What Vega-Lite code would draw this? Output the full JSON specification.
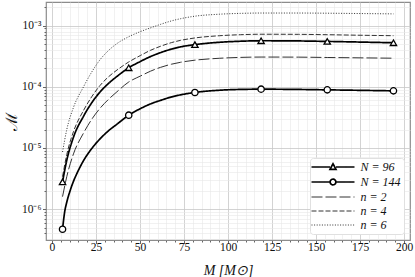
{
  "$schema": "https://vega.github.io/schema/vega-lite/v6.json",
  "width": 364,
  "height": 238,
  "autosize": {"type": "none"},
  "padding": {"left": 46, "top": 2, "right": 5, "bottom": 37},
  "background": "white",
  "config": {
    "view": {"stroke": "#8c8c8c", "strokeWidth": 1.2},
    "axis": {
      "labelFont": "Liberation Serif",
      "labelFontSize": 11.5,
      "labelColor": "#111",
      "titleFont": "Liberation Serif",
      "titleColor": "#111",
      "titleFontWeight": "normal",
      "tickColor": "#666",
      "domain": false,
      "gridColor": "#c8c8c8",
      "gridWidth": 0.8,
      "labelFlush": false,
      "labelOverlap": false
    },
    "legend": {
      "title": null,
      "orient": "bottom-right",
      "offset": 6,
      "symbolSize": 169,
      "labelOffset": 35.5,
      "labelFont": "Liberation Serif",
      "labelFontSize": 12,
      "labelFontStyle": "italic",
      "labelColor": "#111",
      "labelExpr": "join(split(datum.label, ' '), ' ')",
      "fillColor": "white",
      "strokeColor": "#e0e0e0",
      "padding": 3,
      "cornerRadius": 3,
      "rowPadding": 2
    }
  },
  "datasets": {
    "curves": [
      {"s": "N = 96", "x": 6, "y": 2.8e-6},
      {"s": "N = 96", "x": 8.4, "y": 6.3e-6},
      {"s": "N = 96", "x": 12.2, "y": 1.5e-5},
      {"s": "N = 96", "x": 17.9, "y": 3.3e-5},
      {"s": "N = 96", "x": 22.6, "y": 5.5e-5},
      {"s": "N = 96", "x": 27.4, "y": 8.3e-5},
      {"s": "N = 96", "x": 32, "y": 1.13e-4},
      {"s": "N = 96", "x": 36.9, "y": 1.48e-4},
      {"s": "N = 96", "x": 43.6, "y": 2.05e-4},
      {"s": "N = 96", "x": 50.2, "y": 2.6e-4},
      {"s": "N = 96", "x": 55.9, "y": 3.12e-4},
      {"s": "N = 96", "x": 61.6, "y": 3.62e-4},
      {"s": "N = 96", "x": 68, "y": 4.15e-4},
      {"s": "N = 96", "x": 73, "y": 4.5e-4},
      {"s": "N = 96", "x": 81.2, "y": 4.9e-4},
      {"s": "N = 96", "x": 95, "y": 5.35e-4},
      {"s": "N = 96", "x": 107, "y": 5.57e-4},
      {"s": "N = 96", "x": 118.8, "y": 5.67e-4},
      {"s": "N = 96", "x": 140, "y": 5.63e-4},
      {"s": "N = 96", "x": 156.4, "y": 5.53e-4},
      {"s": "N = 96", "x": 175, "y": 5.4e-4},
      {"s": "N = 96", "x": 194, "y": 5.26e-4},
      {"s": "N = 144", "x": 6, "y": 4.7e-7},
      {"s": "N = 144", "x": 7.2, "y": 9.0e-7},
      {"s": "N = 144", "x": 8.4, "y": 1.3e-6},
      {"s": "N = 144", "x": 10.3, "y": 2.0e-6},
      {"s": "N = 144", "x": 12.2, "y": 2.85e-6},
      {"s": "N = 144", "x": 14.1, "y": 3.8e-6},
      {"s": "N = 144", "x": 17.9, "y": 6.2e-6},
      {"s": "N = 144", "x": 22.6, "y": 9.8e-6},
      {"s": "N = 144", "x": 27.4, "y": 1.42e-5},
      {"s": "N = 144", "x": 32, "y": 1.9e-5},
      {"s": "N = 144", "x": 36.9, "y": 2.45e-5},
      {"s": "N = 144", "x": 43.6, "y": 3.44e-5},
      {"s": "N = 144", "x": 50.2, "y": 4.4e-5},
      {"s": "N = 144", "x": 55.9, "y": 5.25e-5},
      {"s": "N = 144", "x": 61.6, "y": 6.0e-5},
      {"s": "N = 144", "x": 68, "y": 6.85e-5},
      {"s": "N = 144", "x": 73, "y": 7.4e-5},
      {"s": "N = 144", "x": 81.2, "y": 8.1e-5},
      {"s": "N = 144", "x": 95, "y": 8.8e-5},
      {"s": "N = 144", "x": 107, "y": 9.08e-5},
      {"s": "N = 144", "x": 118.8, "y": 9.16e-5},
      {"s": "N = 144", "x": 140, "y": 9.07e-5},
      {"s": "N = 144", "x": 156.4, "y": 8.93e-5},
      {"s": "N = 144", "x": 175, "y": 8.77e-5},
      {"s": "N = 144", "x": 194, "y": 8.6e-5},
      {"s": "n = 2", "x": 6, "y": 1.6e-6},
      {"s": "n = 2", "x": 8.4, "y": 3.4e-6},
      {"s": "n = 2", "x": 12.2, "y": 8.0e-6},
      {"s": "n = 2", "x": 17.9, "y": 1.75e-5},
      {"s": "n = 2", "x": 22.6, "y": 2.95e-5},
      {"s": "n = 2", "x": 27.4, "y": 4.5e-5},
      {"s": "n = 2", "x": 32, "y": 6.2e-5},
      {"s": "n = 2", "x": 36.9, "y": 8.3e-5},
      {"s": "n = 2", "x": 43.6, "y": 1.2e-4},
      {"s": "n = 2", "x": 50.2, "y": 1.5e-4},
      {"s": "n = 2", "x": 55.9, "y": 1.8e-4},
      {"s": "n = 2", "x": 61.6, "y": 2.08e-4},
      {"s": "n = 2", "x": 68, "y": 2.35e-4},
      {"s": "n = 2", "x": 73, "y": 2.52e-4},
      {"s": "n = 2", "x": 81.2, "y": 2.73e-4},
      {"s": "n = 2", "x": 95, "y": 2.93e-4},
      {"s": "n = 2", "x": 107, "y": 3.03e-4},
      {"s": "n = 2", "x": 118.8, "y": 3.07e-4},
      {"s": "n = 2", "x": 140, "y": 3.06e-4},
      {"s": "n = 2", "x": 156.4, "y": 3.02e-4},
      {"s": "n = 2", "x": 175, "y": 2.98e-4},
      {"s": "n = 2", "x": 194, "y": 2.94e-4},
      {"s": "n = 4", "x": 6, "y": 3.4e-6},
      {"s": "n = 4", "x": 8.4, "y": 7.8e-6},
      {"s": "n = 4", "x": 12.2, "y": 1.85e-5},
      {"s": "n = 4", "x": 17.9, "y": 4.1e-5},
      {"s": "n = 4", "x": 22.6, "y": 6.9e-5},
      {"s": "n = 4", "x": 27.4, "y": 1.06e-4},
      {"s": "n = 4", "x": 32, "y": 1.45e-4},
      {"s": "n = 4", "x": 36.9, "y": 1.88e-4},
      {"s": "n = 4", "x": 43.6, "y": 2.55e-4},
      {"s": "n = 4", "x": 50.2, "y": 3.25e-4},
      {"s": "n = 4", "x": 55.9, "y": 3.95e-4},
      {"s": "n = 4", "x": 61.6, "y": 4.6e-4},
      {"s": "n = 4", "x": 68, "y": 5.3e-4},
      {"s": "n = 4", "x": 73, "y": 5.75e-4},
      {"s": "n = 4", "x": 81.2, "y": 6.3e-4},
      {"s": "n = 4", "x": 95, "y": 6.85e-4},
      {"s": "n = 4", "x": 107, "y": 7.12e-4},
      {"s": "n = 4", "x": 118.8, "y": 7.25e-4},
      {"s": "n = 4", "x": 140, "y": 7.22e-4},
      {"s": "n = 4", "x": 156.4, "y": 7.12e-4},
      {"s": "n = 4", "x": 175, "y": 6.98e-4},
      {"s": "n = 4", "x": 194, "y": 6.86e-4},
      {"s": "n = 6", "x": 6, "y": 8.6e-6},
      {"s": "n = 6", "x": 8.4, "y": 2.0e-5},
      {"s": "n = 6", "x": 12.2, "y": 4.6e-5},
      {"s": "n = 6", "x": 17.9, "y": 1.0e-4},
      {"s": "n = 6", "x": 22.6, "y": 1.75e-4},
      {"s": "n = 6", "x": 27.4, "y": 2.8e-4},
      {"s": "n = 6", "x": 32, "y": 3.9e-4},
      {"s": "n = 6", "x": 36.9, "y": 5.1e-4},
      {"s": "n = 6", "x": 43.6, "y": 6.6e-4},
      {"s": "n = 6", "x": 50.2, "y": 8.0e-4},
      {"s": "n = 6", "x": 55.9, "y": 9.2e-4},
      {"s": "n = 6", "x": 61.6, "y": 1.05e-3},
      {"s": "n = 6", "x": 68, "y": 1.2e-3},
      {"s": "n = 6", "x": 73, "y": 1.3e-3},
      {"s": "n = 6", "x": 81.2, "y": 1.43e-3},
      {"s": "n = 6", "x": 95, "y": 1.54e-3},
      {"s": "n = 6", "x": 107, "y": 1.59e-3},
      {"s": "n = 6", "x": 118.8, "y": 1.61e-3},
      {"s": "n = 6", "x": 140, "y": 1.61e-3},
      {"s": "n = 6", "x": 156.4, "y": 1.6e-3},
      {"s": "n = 6", "x": 175, "y": 1.58e-3},
      {"s": "n = 6", "x": 194, "y": 1.56e-3}
    ],
    "markers": [
      {"s": "N = 96", "x": 6, "y": 2.8e-6},
      {"s": "N = 96", "x": 43.6, "y": 2.05e-4},
      {"s": "N = 96", "x": 81.2, "y": 4.9e-4},
      {"s": "N = 96", "x": 118.8, "y": 5.67e-4},
      {"s": "N = 96", "x": 156.4, "y": 5.53e-4},
      {"s": "N = 96", "x": 194, "y": 5.26e-4},
      {"s": "N = 144", "x": 6, "y": 4.7e-7},
      {"s": "N = 144", "x": 43.6, "y": 3.44e-5},
      {"s": "N = 144", "x": 81.2, "y": 8.1e-5},
      {"s": "N = 144", "x": 118.8, "y": 9.16e-5},
      {"s": "N = 144", "x": 156.4, "y": 8.93e-5},
      {"s": "N = 144", "x": 194, "y": 8.6e-5}
    ]
  },
  "layer": [
    {
      "data": {"name": "curves"},
      "transform": [{"filter": {"field": "s", "oneOf": ["n = 2", "n = 4", "n = 6"]}}],
      "mark": {"type": "line", "strokeWidth": 1, "color": "#333", "interpolate": "monotone"},
      "encoding": {
        "x": {
          "field": "x", "type": "quantitative",
          "scale": {"domain": [-3.4, 203.4], "nice": false, "zero": false},
          "axis": {
            "orient": "bottom",
            "values": [5,10,15,20,30,35,40,45,55,60,65,70,80,85,90,95,105,110,115,120,130,135,140,145,155,160,165,170,180,185,190,195],
            "grid": true, "gridColor": "#e8e8e8", "gridWidth": 0.6,
            "tickSize": 2, "labels": false, "title": null
          }
        },
        "y": {
          "field": "y", "type": "quantitative",
          "scale": {"type": "log", "domain": [3.13e-7, 2.44e-3], "nice": false},
          "axis": {
            "orient": "left",
            "values": [4e-7,5e-7,6e-7,7e-7,8e-7,9e-7,2e-6,3e-6,4e-6,5e-6,6e-6,7e-6,8e-6,9e-6,2e-5,3e-5,4e-5,5e-5,6e-5,7e-5,8e-5,9e-5,2e-4,3e-4,4e-4,5e-4,6e-4,7e-4,8e-4,9e-4,2e-3],
            "grid": true, "gridColor": "#e8e8e8", "gridWidth": 0.6,
            "tickSize": 2, "labels": false, "title": null
          }
        },
        "strokeDash": {
          "field": "s", "type": "nominal",
          "scale": {
            "domain": ["N = 96", "N = 144", "n = 2", "n = 4", "n = 6"],
            "range": [[1, 0], [1, 0], [11, 3], [5, 2], [1, 1.6]]
          },
          "legend": {
            "symbolType": {"expr": "datum.value == 'N = 96' ? 'M-1.154,0H1.694M2.614,0H5.46M2.154,-0.5L2.614,0.36L1.694,0.36Z' : datum.value == 'N = 144' ? 'M-1.154,0H1.704M2.604,0H5.46M2.604,0L2.544,0.225L2.379,0.39L2.154,0.45L1.929,0.39L1.764,0.225L1.704,0L1.764,-0.225L1.929,-0.39L2.154,-0.45L2.379,-0.39L2.544,-0.225Z' : 'M-1.154,0H5.46'"},
            "symbolStrokeWidth": {"expr": "datum.value == 'N = 96' || datum.value == 'N = 144' ? 1.7 : 1"},
            "symbolStrokeColor": {"expr": "datum.value == 'N = 96' || datum.value == 'N = 144' ? '#000' : '#333'"},
            "symbolFillColor": "white"
          }
        }
      }
    },
    {
      "data": {"name": "curves"},
      "transform": [{"filter": {"field": "s", "oneOf": ["N = 96", "N = 144"]}}],
      "mark": {"type": "line", "strokeWidth": 1.7, "color": "#000", "interpolate": "monotone"},
      "encoding": {
        "x": {"field": "x", "type": "quantitative", "scale": {"domain": [-3.4, 203.4], "nice": false, "zero": false}, "axis": null},
        "y": {"field": "y", "type": "quantitative", "scale": {"type": "log", "domain": [3.13e-7, 2.44e-3], "nice": false}, "axis": null},
        "strokeDash": {
          "field": "s", "type": "nominal",
          "scale": {
            "domain": ["N = 96", "N = 144", "n = 2", "n = 4", "n = 6"],
            "range": [[1, 0], [1, 0], [11, 3], [5, 2], [1, 1.6]]
          },
          "legend": {
            "symbolType": {"expr": "datum.value == 'N = 96' ? 'M-1.154,0H1.694M2.614,0H5.46M2.154,-0.5L2.614,0.36L1.694,0.36Z' : datum.value == 'N = 144' ? 'M-1.154,0H1.704M2.604,0H5.46M2.604,0L2.544,0.225L2.379,0.39L2.154,0.45L1.929,0.39L1.764,0.225L1.704,0L1.764,-0.225L1.929,-0.39L2.154,-0.45L2.379,-0.39L2.544,-0.225Z' : 'M-1.154,0H5.46'"},
            "symbolStrokeWidth": {"expr": "datum.value == 'N = 96' || datum.value == 'N = 144' ? 1.7 : 1"},
            "symbolStrokeColor": {"expr": "datum.value == 'N = 96' || datum.value == 'N = 144' ? '#000' : '#333'"},
            "symbolFillColor": "white"
          }
        }
      }
    },
    {
      "data": {"name": "markers"},
      "mark": {"type": "point", "filled": false, "fill": "white", "fillOpacity": 1, "stroke": "#000", "strokeWidth": 1.3, "size": 40, "opacity": 1},
      "encoding": {
        "x": {
          "field": "x", "type": "quantitative",
          "scale": {"domain": [-3.4, 203.4], "nice": false, "zero": false},
          "axis": {
            "orient": "bottom",
            "values": [0, 25, 50, 75, 100, 125, 150, 175, 200],
            "grid": true,
            "tickSize": 3.5,
            "labelBaseline": "middle",
            "labelPadding": 3.5,
            "title": "M [M⊙]",
            "titleFontSize": 14,
            "titleFontStyle": "italic",
            "titleBaseline": "middle",
            "titleY": 30
          }
        },
        "y": {
          "field": "y", "type": "quantitative",
          "scale": {"type": "log", "domain": [3.13e-7, 2.44e-3], "nice": false},
          "axis": {
            "orient": "left",
            "values": [1e-6, 1e-5, 1e-4, 1e-3],
            "grid": true,
            "tickSize": 3.5,
            "labelPadding": 1.5,
            "labelExpr": "'10⁻' + ['⁰','¹','²','³','⁴','⁵','⁶','⁷'][-round(log(datum.value)/LN10)]",
            "title": "ℳ",
            "titleFont": "DejaVu Serif",
            "titleFontSize": 16,
            "titleX": -35,
            "titleY": 119,
            "titleAlign": "center",
            "titleBaseline": "middle",
            "titleAngle": -90
          }
        },
        "shape": {
          "field": "s", "type": "nominal",
          "scale": {"domain": ["N = 96", "N = 144"], "range": ["triangle-up", "circle"]},
          "legend": null
        }
      }
    }
  ],
  "resolve": {"axis": {"x": "independent", "y": "independent"}}
}
